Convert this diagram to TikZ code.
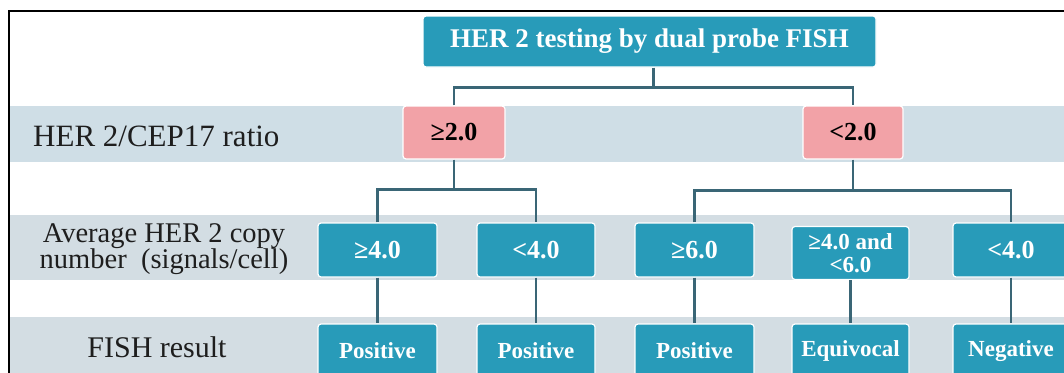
\documentclass[tikz,border=0pt]{standalone}
\usepackage{fontspec}
\setmainfont{Liberation Serif}
\definecolor{teal1}{HTML}{289BB9}
\definecolor{pink1}{HTML}{F2A2A7}
\definecolor{bandA}{HTML}{CFDEE6}
\definecolor{bandB}{HTML}{D3DDE3}
\definecolor{linec}{HTML}{3A6676}
\definecolor{labc}{HTML}{1E1E1E}
\tikzset{
  tbox/.style={rectangle, rounded corners=3pt, fill=teal1, draw=white, line width=1.2pt,
    text=white, font=\bfseries\fontsize{26}{27}\selectfont, inner sep=0pt, align=center},
  pbox/.style={rectangle, rounded corners=3pt, fill=pink1, draw=white, line width=1.2pt,
    text=black, font=\bfseries\fontsize{26}{27}\selectfont, inner sep=0pt,
    minimum height=53pt},
  rbox/.style={tbox, font=\bfseries\fontsize{23}{24}\selectfont},
  conn/.style={draw=linec, line width=2.2pt},
  lab/.style={text=labc, inner sep=0pt, align=center}
}
\begin{document}
\begin{tikzpicture}[x=1pt,y=-1pt]
\useasboundingbox (0,0) rectangle (1064,372);
\clip (0,0) rectangle (1064,372);
\fill[white] (0,0) rectangle (1064,372);
% bands
\fill[bandA] (10,106) rectangle (1070,162);
\fill[bandB] (10,215) rectangle (1070,280);
\fill[bandB] (10,317) rectangle (1070,380);
% frame
\draw[line width=2pt, black] (8.5,390) -- (8.5,10.5) -- (1080,10.5);
% labels
\node[lab, anchor=west, font=\fontsize{31}{32}\selectfont] (l1) at (33,136) {HER 2/CEP17 ratio};
\node[lab, font=\fontsize{28.5}{26}\selectfont] (l2) at (164,249) {Average HER 2 copy\\number\ \ (signals/cell)};
\node[lab, font=\fontsize{30}{32}\selectfont] (l3) at (157,347) {FISH result};
% top
\node[tbox, minimum width=453pt, minimum height=51pt, font=\bfseries\fontsize{27}{28}\selectfont] (top) at (649.5,41.5) {HER 2 testing by dual probe FISH};
% pink
\node[pbox, minimum width=102pt] (p1) at (454,132.5) {≥2.0};
\node[pbox, minimum width=100pt] (p2) at (853,132.5) {<2.0};
% row 2
\node[tbox, minimum width=119pt, minimum height=54pt] (b1) at (377.5,250) {≥4.0};
\node[tbox, minimum width=118pt, minimum height=54pt] (b2) at (536,250) {<4.0};
\node[tbox, minimum width=119pt, minimum height=54pt] (b3) at (694.5,250) {≥6.0};
\node[tbox, minimum width=117pt, minimum height=53pt, font=\bfseries\fontsize{23}{23}\selectfont] (b4) at (850.5,253) {≥4.0 and\\<6.0};
\node[tbox, minimum width=116pt, minimum height=54pt] (b5) at (1011,250) {<4.0};
% row 3
\node[rbox, minimum width=119pt, minimum height=54pt] (c1) at (377.5,351) {Positive};
\node[rbox, minimum width=118pt, minimum height=54pt] (c2) at (536,351) {Positive};
\node[rbox, minimum width=119pt, minimum height=54pt] (c3) at (694.5,351) {Positive};
\node[rbox, minimum width=117pt, minimum height=54pt] (c4) at (850.5,351) {Equivocal};
\node[rbox, minimum width=116pt, minimum height=54pt] (c5) at (1011,351) {Negative};
% connectors
\draw[conn] ([xshift=4pt]top.south) -- ++(0,21);
\draw[conn] (p1.north) -- ++(0,-18) -| (p2.north);
\draw[conn] (p1.south) -- ++(0,31);
\draw[conn] (b1.north) -- ++(0,-33) -| (b2.north);
\draw[conn] (p2.south) -- ++(0,32);
\draw[conn] (b3.north) -- ++(0,-32) -| (b5.north);
\draw[conn] (b1) -- (c1);
\draw[conn] (b2) -- (c2);
\draw[conn] (b3) -- (c3);
\draw[conn] (b4) -- (c4);
\draw[conn] (b5) -- (c5);
\end{tikzpicture}
\end{document}
